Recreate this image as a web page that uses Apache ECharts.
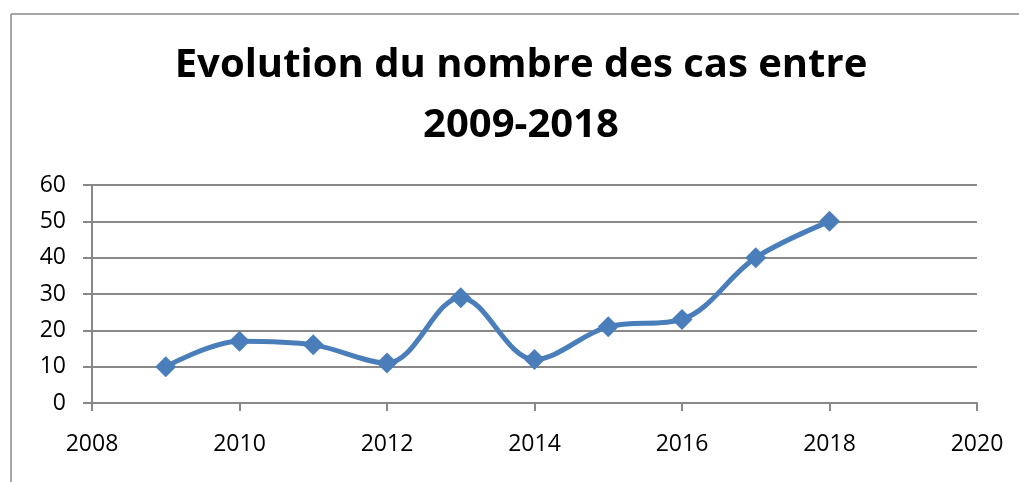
<!DOCTYPE html>
<html>
<head>
<meta charset="utf-8">
<script src="https://cdn.jsdelivr.net/npm/echarts@6/dist/echarts.min.js"></script>
<style>
  html, body { margin: 0; padding: 0; background: #fff; }
  #chart { width: 1019px; height: 482px; }
</style>
</head>
<body>
<div id="chart"></div>
<script>
// données
var years = [2009, 2010, 2011, 2012, 2013, 2014, 2015, 2016, 2017, 2018]
var cases = [10, 17, 16, 11, 29, 12, 21, 23, 40, 50]
var titleText = 'Evolution du nombre des cas entre\n2009-2018'

var points = years.map(function (y, i) { return [y, cases[i]] })

var myChart = echarts.init(document.getElementById('chart'))
myChart.setOption({
  animation: false,
  backgroundColor: '#fff',
  graphic: [
    { type: 'line', shape: { x1: 11, y1: 14, x2: 1019, y2: 14 }, style: { stroke: '#888', lineWidth: 1.5 } },
    { type: 'line', shape: { x1: 11, y1: 14, x2: 11, y2: 482 }, style: { stroke: '#888', lineWidth: 1.5 } },
    {
      // titre centré sur la zone du graphique
      type: 'text',
      x: 521,
      y: 36,
      style: {
        text: titleText,
        align: 'center',
        verticalAlign: 'top',
        fontFamily: 'Open Sans',
        fontWeight: 'bold',
        fontSize: 40,
        lineHeight: 60,
        fill: '#000'
      }
    }
  ],
  grid: {
    left: 92,
    right: 42,
    top: 185,
    bottom: 79
  },
  xAxis: {
    type: 'value',
    min: 2008,
    max: 2020,
    interval: 2,
    axisLine: { show: true, lineStyle: { color: '#888', width: 2 } },
    axisTick: { show: true, length: 8, lineStyle: { color: '#888', width: 2 } },
    splitLine: { show: false },
    axisLabel: {
      margin: 30,
      fontFamily: 'Open Sans',
      fontSize: 23,
      color: '#000',
      formatter: function (v) { return String(v) }
    }
  },
  yAxis: {
    type: 'value',
    min: 0,
    max: 60,
    interval: 10,
    axisLine: { show: true, lineStyle: { color: '#888', width: 2 } },
    axisTick: { show: true, length: 9, lineStyle: { color: '#888', width: 2 } },
    splitLine: { show: true, lineStyle: { color: '#888', width: 2 } },
    axisLabel: {
      margin: 26,
      fontFamily: 'Open Sans',
      fontSize: 23,
      color: '#000'
    }
  },
  series: [
    {
      type: 'line',
      data: points,
      smooth: 0.35,
      symbol: 'diamond',
      symbolSize: 21,
      lineStyle: { color: '#4a7ebb', width: 5 },
      itemStyle: { color: '#4a7ebb' }
    }
  ]
})
</script>
</body>
</html>
